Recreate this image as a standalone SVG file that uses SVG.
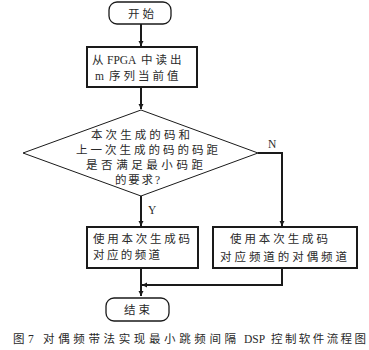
<svg xmlns="http://www.w3.org/2000/svg" width="369" height="350" viewBox="0 0 369 350">
<style>
.t{font-family:"Liberation Serif","Noto Sans CJK SC",serif;font-size:11.5px;fill:#2a2a2a}
.s{letter-spacing:3px}
.box{fill:#fff;stroke:#1a1a1a;stroke-width:2}
.term{fill:#fff;stroke:#1a1a1a;stroke-width:1.3}
.dia{fill:#fff;stroke:#1a1a1a;stroke-width:1}
.ln{fill:none;stroke:#1a1a1a;stroke-width:2}
</style>
<defs>
<marker id="ah" markerWidth="6" markerHeight="6" refX="5" refY="3" orient="auto" markerUnits="userSpaceOnUse">
<path d="M0,0.5 L5,3 L0,5.5 Z" fill="#1a1a1a"/>
</marker>
</defs>
<rect width="369" height="350" fill="#fff"/>
<g id="connectors">
<line class="ln" x1="141" y1="24" x2="141" y2="46" marker-end="url(#ah)"/>
<line class="ln" x1="141" y1="87" x2="141" y2="109" marker-end="url(#ah)"/>
<line class="ln" x1="141" y1="196" x2="141" y2="226" marker-end="url(#ah)"/>
<polyline class="ln" points="258,153 282,153 282,226" marker-end="url(#ah)"/>
<line class="ln" x1="141" y1="268" x2="141" y2="296" marker-end="url(#ah)"/>
<polyline class="ln" points="282,268 282,285 142,285" marker-end="url(#ah)"/>
<text class="t" x="268" y="148">N</text>
<text class="t" x="148" y="214">Y</text>
</g>
<g id="start">
<rect class="term" x="109" y="2" width="62" height="22" rx="8"/>
<text class="t" x="141" y="18" text-anchor="middle" textLength="26" lengthAdjust="spacing">开始</text>
</g>
<g id="read">
<rect class="box" x="87" y="47" width="110" height="40"/>
<text class="t" y="64"><tspan x="92">从</tspan><tspan x="107">FPGA</tspan><tspan x="141" class="s">中读出</tspan></text>
<text class="t" y="80"><tspan x="95">m</tspan><tspan x="109" class="s">序列当前值</tspan></text>
</g>
<g id="decision">
<polygon class="dia" points="141,110 258,153 141,196 23,153"/>
<text class="t" x="91" y="139" textLength="99" lengthAdjust="spacing">本次生成的码和</text>
<text class="t" x="76" y="154" textLength="142" lengthAdjust="spacing">上一次生成的码的码距</text>
<text class="t" x="86" y="169" textLength="117" lengthAdjust="spacing">是否满足最小码距</text>
<text class="t" x="115" y="184" textLength="45" lengthAdjust="spacing">的要求?</text>
</g>
<g id="use">
<rect class="box" x="87" y="227" width="111" height="41"/>
<text class="t" x="93" y="243" textLength="97" lengthAdjust="spacing">使用本次生成码</text>
<text class="t" x="93" y="259" textLength="67" lengthAdjust="spacing">对应的频道</text>
</g>
<g id="dual">
<rect class="box" x="213" y="227" width="144" height="41"/>
<text class="t" x="230" y="243" textLength="98" lengthAdjust="spacing">使用本次生成码</text>
<text class="t" x="220" y="261" textLength="127" lengthAdjust="spacing">对应频道的对偶频道</text>
</g>
<g id="end">
<rect class="term" x="106" y="298" width="63" height="23" rx="8"/>
<text class="t" x="137" y="314" text-anchor="middle" textLength="26" lengthAdjust="spacing">结束</text>
</g>
<g id="caption">
<text class="t" x="13" y="343">图</text>
<text class="t" x="28" y="343">7</text>
<text class="t" x="43" y="343" textLength="193" lengthAdjust="spacing">对偶频带法实现最小跳频间隔</text>
<text class="t" x="244" y="343">DSP</text>
<text class="t" x="271" y="343" textLength="95" lengthAdjust="spacing">控制软件流程图</text>
</g>
</svg>
